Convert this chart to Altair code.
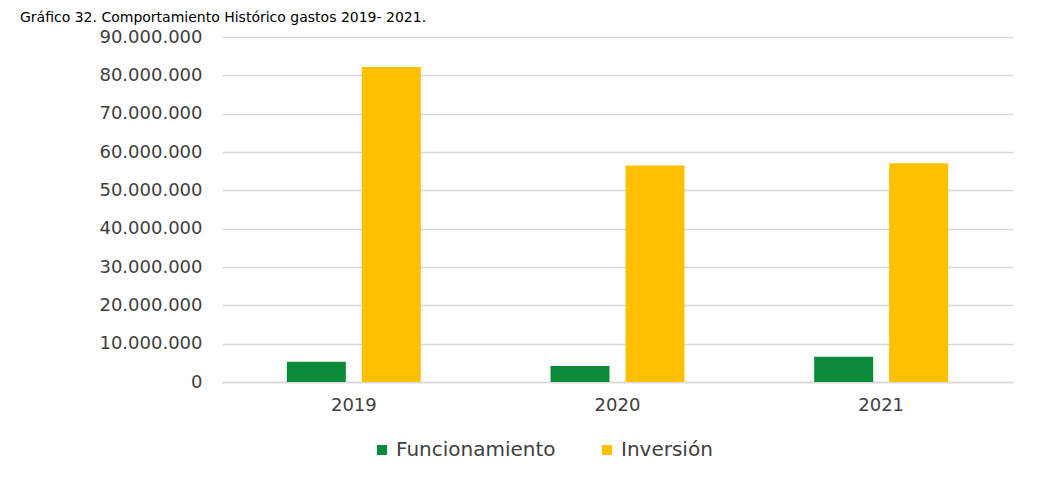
import altair as alt
import pandas as pd

years = ["2019", "2020", "2021"]
series = ["Funcionamiento", "Inversión"]
funcionamiento = [5300000, 4150000, 6560000]
inversion = [82200000, 56500000, 57050000]
colors = ["#0B8A3A", "#FFC000"]
y_ticks = [0, 10000000, 20000000, 30000000, 40000000, 50000000, 60000000, 70000000, 80000000, 90000000]
title_text = "Gráfico 32. Comportamiento Histórico gastos 2019- 2021."

rows = []
for i, y in enumerate(years):
    rows.append({"year": y, "serie": series[0], "value": funcionamiento[i]})
    rows.append({"year": y, "serie": series[1], "value": inversion[i]})
df = pd.DataFrame(rows)

font = "DejaVu Sans"
label_color = "#404040"

bars = alt.Chart(df).mark_bar().encode(
    x=alt.X("year:N", sort=years, title=None,
            scale=alt.Scale(paddingInner=0.492, paddingOuter=0.246),
            axis=alt.Axis(labelAngle=0, labelFontSize=18, labelColor=label_color, labelFont=font,
                          labelPadding=14, ticks=False, domainColor="#d9d9d9", domainWidth=1.5, grid=False)),
    xOffset=alt.XOffset("serie:N", sort=series, scale=alt.Scale(paddingInner=0.2133, paddingOuter=0)),
    y=alt.Y("value:Q", title=None,
            scale=alt.Scale(domain=[0, 90000000], nice=False),
            axis=alt.Axis(values=y_ticks, labelExpr="replace(format(datum.value, ',d'), /,/g, '.')",
                          labelFontSize=18, labelColor=label_color, labelFont=font, labelPadding=20,
                          ticks=False, domain=False, gridColor="#d9d9d9", gridWidth=1.5)),
    color=alt.Color("serie:N", sort=series, scale=alt.Scale(domain=series, range=colors),
                    legend=alt.Legend(title=None, orient="none", legendX=150, legendY=403,
                                      direction="horizontal", symbolType="square", symbolSize=100,
                                      symbolStrokeWidth=0, labelFontSize=20, labelFont=font,
                                      labelColor=label_color, labelOffset=4, columnPadding=41)),
)

title = alt.Chart(pd.DataFrame({"t": [title_text]})).mark_text(
    align="left", baseline="alphabetic", fontSize=14, font=font, color="#000000"
).encode(text="t:N", x=alt.value(-202), y=alt.value(-15))

chart = alt.layer(bars, title).properties(
    width=791, height=345,
    autosize=alt.AutoSizeParams(type="none"),
    padding={"left": 214, "top": 29, "right": 18, "bottom": 90},
    background="white",
).configure_view(stroke=None)

chart.save("out.html", embed_options={"renderer": "svg", "actions": False})
